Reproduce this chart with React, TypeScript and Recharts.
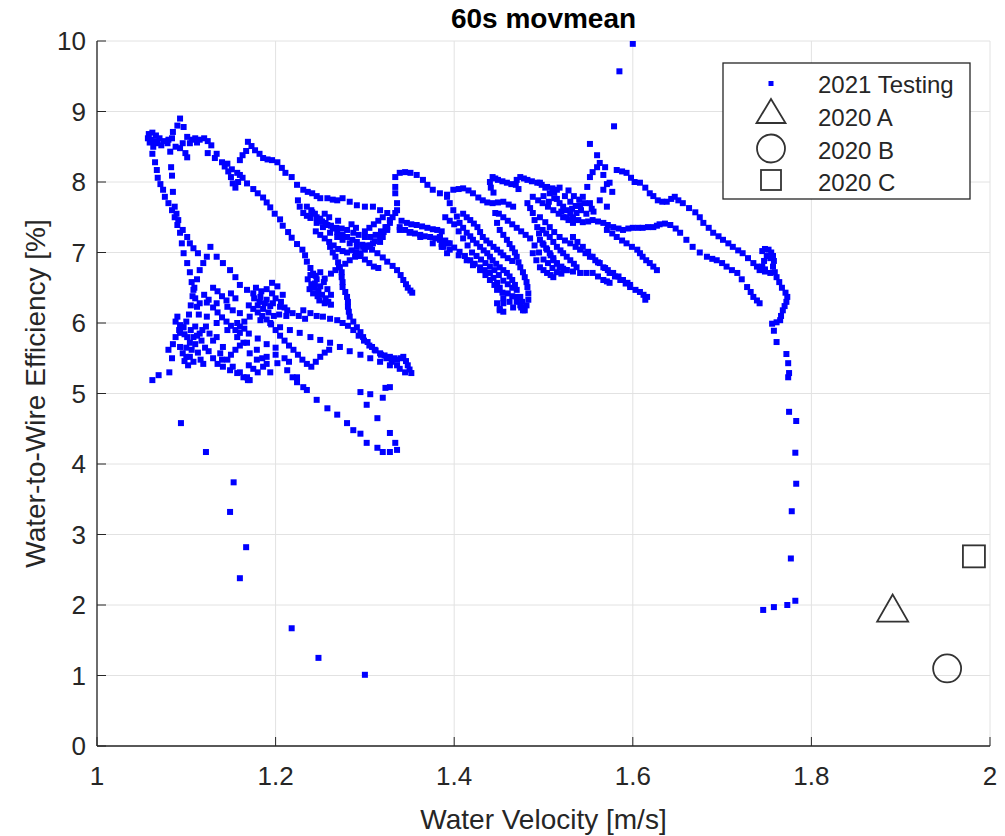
import { ScatterChart, Scatter, XAxis, YAxis, CartesianGrid } from "recharts"

const AXIS = "#262626"
const GRID = "#e2e2e2"
const BLUE = "#0000ff"
const FONT = "'Liberation Sans', Arial, Helvetica, sans-serif"

// tick values
const xTicks = [1, 1.2, 1.4, 1.6, 1.8, 2]
const yTicks = [0, 1, 2, 3, 4, 5, 6, 7, 8, 9, 10]

// 2021 testing as [velocity, efficiency] runs
const leftTop = [
  [1.057, 8.62], [1.058, 8.68], [1.062, 8.7], [1.066, 8.66], [1.059, 8.56], [1.063, 8.5], [1.07, 8.62],
  [1.075, 8.58], [1.079, 8.55], [1.084, 8.62], [1.085, 8.71], [1.09, 8.8], [1.093, 8.9], [1.097, 8.78],
  [1.101, 8.64], [1.106, 8.6], [1.11, 8.62], [1.115, 8.6], [1.12, 8.62], [1.124, 8.58], [1.128, 8.52],
  [1.082, 8.43], [1.093, 8.48], [1.099, 8.41], [1.101, 8.35], [1.088, 8.5], [1.096, 8.55],
  [1.06, 8.6], [1.064, 8.58], [1.068, 8.55], [1.072, 8.52], [1.08, 8.6], [1.104, 8.55], [1.112, 8.56],
]
const leftEdge = [
  [1.062, 8.4], [1.065, 8.28], [1.067, 8.17], [1.068, 8.06], [1.071, 7.97], [1.074, 7.89], [1.076, 7.79],
  [1.08, 7.7], [1.084, 7.6], [1.087, 7.5], [1.09, 7.39], [1.093, 7.28], [1.095, 7.13], [1.097, 6.99],
  [1.101, 6.85], [1.104, 6.72], [1.106, 6.58], [1.108, 6.47], [1.11, 6.35], [1.112, 6.23], [1.114, 6.12],
  [1.083, 8.21], [1.084, 8.09], [1.085, 7.86], [1.087, 7.65], [1.089, 7.55], [1.091, 7.46], [1.096, 7.32],
  [1.101, 7.22], [1.104, 7.13], [1.108, 7.06], [1.113, 6.99],
]
const diagTop = [
  [1.124, 8.41], [1.132, 8.34], [1.14, 8.28], [1.143, 8.22], [1.147, 8.15], [1.15, 8.07], [1.152, 7.98],
  [1.155, 7.92], [1.158, 8.0], [1.16, 8.1], [1.16, 8.31], [1.163, 8.38], [1.167, 8.44],
  [1.134, 8.4], [1.146, 8.26], [1.151, 8.18], [1.157, 8.13], [1.163, 8.06], [1.168, 7.98], [1.175, 7.9],
  [1.18, 7.84], [1.186, 7.78], [1.19, 7.71], [1.194, 7.64], [1.199, 7.55], [1.205, 7.47], [1.208, 7.38],
  [1.214, 7.29], [1.218, 7.21], [1.224, 7.12], [1.23, 7.04], [1.233, 6.96], [1.235, 6.87], [1.239, 6.78],
  [1.242, 6.7], [1.246, 6.62],
]
const blobA = [
  [1.236, 6.62], [1.24, 6.55], [1.244, 6.5], [1.248, 6.45], [1.252, 6.4], [1.256, 6.35], [1.259, 6.3],
  [1.262, 6.26], [1.238, 6.48], [1.242, 6.42], [1.247, 6.38], [1.25, 6.52], [1.254, 6.58], [1.245, 6.67],
  [1.25, 6.72], [1.255, 6.63], [1.258, 6.48], [1.262, 6.4], [1.239, 6.68], [1.244, 6.56], [1.249, 6.32],
  [1.255, 6.28],
]
const upperRun = [
  [1.169, 8.57], [1.173, 8.51], [1.177, 8.45], [1.182, 8.4], [1.186, 8.34], [1.191, 8.32], [1.196, 8.31],
  [1.202, 8.28], [1.207, 8.2], [1.211, 8.13], [1.218, 8.07], [1.224, 7.96], [1.231, 7.89], [1.236, 7.86],
  [1.241, 7.84], [1.246, 7.8], [1.25, 7.77], [1.258, 7.77], [1.264, 7.75], [1.269, 7.74], [1.275, 7.77],
  [1.283, 7.72], [1.291, 7.67], [1.3, 7.65], [1.309, 7.65], [1.317, 7.6], [1.325, 7.56], [1.331, 7.5],
]
const crossLoop = [
  [1.328, 7.46], [1.334, 7.56], [1.336, 7.7], [1.334, 7.84], [1.334, 7.93], [1.334, 8.07], [1.339, 8.13],
  [1.345, 8.14], [1.351, 8.13], [1.358, 8.1], [1.365, 8.03], [1.37, 7.96], [1.376, 7.89], [1.384, 7.84],
  [1.392, 7.82], [1.399, 7.89], [1.405, 7.9], [1.41, 7.91], [1.416, 7.88], [1.421, 7.84], [1.427, 7.78],
  [1.432, 7.74], [1.437, 7.71], [1.443, 7.7], [1.449, 7.71], [1.455, 7.72], [1.461, 7.68], [1.466, 7.65],
]
const innerBand = [
  [1.225, 7.74], [1.227, 7.65], [1.231, 7.56], [1.235, 7.52], [1.239, 7.49], [1.246, 7.42], [1.253, 7.36],
  [1.261, 7.28], [1.269, 7.22], [1.275, 7.18], [1.283, 7.13], [1.291, 7.08], [1.298, 7.08], [1.303, 7.1],
  [1.309, 7.13], [1.317, 7.15], [1.32, 7.22], [1.325, 7.32], [1.328, 7.42], [1.336, 7.6],
  [1.24, 7.6], [1.244, 7.55], [1.25, 7.48], [1.256, 7.42], [1.262, 7.38], [1.268, 7.35], [1.274, 7.34],
  [1.28, 7.32], [1.287, 7.28], [1.293, 7.25], [1.3, 7.22], [1.306, 7.22], [1.312, 7.25], [1.318, 7.3],
  [1.323, 7.36],
]
const crossDiag = [
  [1.235, 7.65], [1.241, 7.57], [1.246, 7.5], [1.252, 7.44], [1.258, 7.39], [1.264, 7.34], [1.269, 7.29],
  [1.275, 7.25], [1.28, 7.22], [1.286, 7.18], [1.291, 7.15], [1.297, 7.11], [1.302, 7.08], [1.308, 7.04],
  [1.314, 6.99], [1.32, 6.93], [1.325, 6.87], [1.331, 6.81], [1.336, 6.75], [1.34, 6.68], [1.343, 6.61],
  [1.346, 6.55], [1.348, 6.5], [1.351, 6.46], [1.353, 6.43],
  [1.262, 6.7], [1.267, 6.75], [1.272, 6.79], [1.278, 6.84], [1.283, 6.89], [1.289, 6.94], [1.295, 6.99],
  [1.3, 7.04], [1.306, 7.1], [1.311, 7.16], [1.317, 7.22], [1.321, 7.29], [1.325, 7.36],
]
const lowerDiag = [
  [1.261, 7.08], [1.264, 7.0], [1.267, 6.94], [1.27, 6.86], [1.271, 6.79], [1.274, 6.72], [1.274, 6.65],
  [1.275, 6.58], [1.275, 6.51], [1.278, 6.44], [1.28, 6.37], [1.281, 6.3], [1.281, 6.23], [1.282, 6.16],
  [1.283, 6.09], [1.287, 6.02], [1.291, 5.94], [1.295, 5.87], [1.298, 5.8], [1.303, 5.73], [1.308, 5.66],
  [1.312, 5.61], [1.317, 5.57], [1.322, 5.54], [1.328, 5.52], [1.333, 5.5], [1.336, 5.48], [1.34, 5.5],
  [1.343, 5.52], [1.346, 5.46], [1.348, 5.4], [1.35, 5.34], [1.352, 5.29],
  [1.231, 6.18], [1.239, 6.14], [1.246, 6.1], [1.253, 6.09], [1.261, 6.06], [1.269, 6.04], [1.275, 6.0],
  [1.281, 5.96], [1.287, 5.9], [1.293, 5.82], [1.299, 5.75], [1.305, 5.68], [1.311, 5.62], [1.318, 5.55],
  [1.324, 5.5], [1.33, 5.45], [1.336, 5.4],
]
const midCluster = [
  [1.339, 7.36], [1.345, 7.32], [1.351, 7.29], [1.356, 7.27], [1.362, 7.25], [1.367, 7.23], [1.373, 7.22],
  [1.379, 7.2], [1.384, 7.18], [1.389, 7.15], [1.393, 7.13],
  [1.341, 7.45], [1.347, 7.42], [1.352, 7.4], [1.358, 7.39], [1.364, 7.37], [1.37, 7.35], [1.376, 7.33],
  [1.381, 7.32], [1.386, 7.3], [1.384, 7.22], [1.388, 7.08], [1.392, 6.99], [1.386, 7.12],
  [1.339, 7.32], [1.35, 7.28], [1.362, 7.22], [1.376, 7.13], [1.386, 7.08], [1.395, 7.04], [1.405, 6.96],
  [1.414, 6.89], [1.421, 6.82], [1.429, 6.75], [1.435, 6.68], [1.44, 6.61], [1.445, 6.54], [1.448, 6.47],
]
const centerRuns = [
  [1.392, 7.79], [1.395, 7.7], [1.399, 7.6], [1.403, 7.51], [1.406, 7.42], [1.41, 7.35], [1.414, 7.28],
  [1.418, 7.23], [1.421, 7.18], [1.425, 7.13], [1.429, 7.08], [1.433, 7.03], [1.437, 6.99], [1.44, 6.94],
  [1.443, 6.89], [1.447, 6.84], [1.451, 6.79], [1.455, 6.75], [1.459, 6.71], [1.462, 6.66], [1.465, 6.61],
  [1.468, 6.54], [1.47, 6.47], [1.474, 6.37], [1.476, 6.3],
  [1.384, 7.22], [1.39, 7.17], [1.395, 7.13], [1.4, 7.07], [1.406, 7.01], [1.412, 6.95], [1.418, 6.89],
  [1.423, 6.84], [1.429, 6.79], [1.434, 6.75], [1.44, 6.71], [1.444, 6.64], [1.448, 6.57], [1.451, 6.5],
  [1.454, 6.43], [1.455, 6.35], [1.455, 6.28], [1.451, 6.18],
  [1.41, 7.55], [1.414, 7.5], [1.418, 7.46], [1.422, 7.41], [1.426, 7.36], [1.429, 7.29], [1.432, 7.22],
  [1.436, 7.17], [1.44, 7.13], [1.444, 7.08], [1.448, 7.04], [1.452, 7.0], [1.455, 6.96], [1.46, 6.92],
  [1.465, 6.88],
  [1.446, 7.56], [1.448, 7.42], [1.451, 7.32], [1.455, 7.25], [1.459, 7.18], [1.462, 7.12], [1.465, 7.06],
  [1.468, 7.0], [1.47, 6.94], [1.472, 6.86], [1.474, 6.79], [1.477, 6.72], [1.479, 6.65], [1.481, 6.58],
  [1.482, 6.51], [1.483, 6.42], [1.483, 6.33], [1.481, 6.25], [1.479, 6.18],
  [1.448, 6.28], [1.451, 6.2], [1.455, 6.16], [1.47, 6.37], [1.474, 6.25], [1.477, 6.18], [1.462, 6.3],
  [1.466, 6.22],
]
const centerTop = [
  [1.44, 8.0], [1.443, 8.07], [1.446, 8.05], [1.449, 8.03], [1.454, 8.01], [1.459, 7.99], [1.464, 7.97],
  [1.47, 8.03], [1.474, 8.07], [1.478, 8.05], [1.482, 8.03], [1.487, 8.01], [1.493, 7.99], [1.498, 7.96],
  [1.504, 7.93], [1.51, 7.91], [1.515, 7.89], [1.441, 7.92], [1.444, 7.85], [1.469, 7.96], [1.472, 7.9],
  [1.482, 7.7], [1.485, 7.63], [1.488, 7.56], [1.49, 7.46], [1.493, 7.36], [1.495, 7.27], [1.496, 7.18],
  [1.5, 7.11], [1.504, 7.04], [1.508, 6.96], [1.511, 6.89], [1.515, 6.84], [1.518, 6.79], [1.522, 6.77],
  [1.526, 6.75],
  [1.499, 7.32], [1.503, 7.27], [1.507, 7.22], [1.511, 7.15], [1.515, 7.08], [1.519, 7.03], [1.522, 6.99],
  [1.526, 6.94], [1.53, 6.89], [1.534, 6.84], [1.537, 6.79],
  [1.488, 7.79], [1.494, 7.74], [1.499, 7.7], [1.505, 7.65], [1.511, 7.6], [1.517, 7.55], [1.522, 7.5],
  [1.528, 7.46], [1.533, 7.42],
  [1.488, 6.99], [1.492, 6.89], [1.496, 6.79], [1.5, 6.75], [1.504, 6.71], [1.508, 6.68], [1.511, 6.65],
]
const denseKnot = [
  [1.5, 7.8], [1.506, 7.72], [1.512, 7.85], [1.518, 7.92], [1.524, 7.8], [1.53, 7.72], [1.536, 7.66],
  [1.542, 7.6], [1.548, 7.55], [1.554, 7.62], [1.528, 7.88], [1.534, 7.8], [1.54, 7.75], [1.546, 7.7],
  [1.552, 7.7], [1.556, 7.58], [1.52, 7.58], [1.526, 7.5], [1.532, 7.62], [1.515, 7.76],
]
const rightRuns = [
  [1.496, 7.99], [1.502, 7.92], [1.507, 7.84], [1.512, 7.77], [1.518, 7.7], [1.522, 7.65], [1.526, 7.6],
  [1.53, 7.55], [1.533, 7.5], [1.539, 7.46], [1.544, 7.43], [1.55, 7.44], [1.555, 7.46], [1.561, 7.44],
  [1.567, 7.42], [1.572, 7.39], [1.578, 7.36], [1.584, 7.34], [1.589, 7.32], [1.595, 7.34], [1.6, 7.35],
  [1.606, 7.35], [1.611, 7.35], [1.617, 7.36], [1.623, 7.36], [1.627, 7.38], [1.63, 7.4], [1.636, 7.41],
  [1.642, 7.39], [1.648, 7.34], [1.653, 7.28], [1.66, 7.18], [1.667, 7.08], [1.675, 7.0], [1.683, 6.94],
  [1.689, 6.91], [1.694, 6.89], [1.7, 6.85], [1.705, 6.8], [1.711, 6.75], [1.717, 6.71], [1.722, 6.62],
  [1.728, 6.51], [1.732, 6.44], [1.735, 6.37], [1.739, 6.32], [1.742, 6.28],
  [1.496, 7.5], [1.502, 7.43], [1.507, 7.36], [1.512, 7.29], [1.518, 7.22], [1.524, 7.17], [1.53, 7.13],
  [1.536, 7.08], [1.541, 7.04], [1.547, 6.99], [1.552, 6.94], [1.558, 6.89], [1.563, 6.85], [1.569, 6.78],
  [1.574, 6.71], [1.58, 6.66], [1.586, 6.61], [1.592, 6.56], [1.597, 6.51], [1.603, 6.47], [1.608, 6.44],
  [1.612, 6.4], [1.616, 6.37], [1.614, 6.33],
  [1.533, 7.22], [1.538, 7.15], [1.544, 7.08], [1.55, 7.01], [1.555, 6.94], [1.561, 6.86], [1.567, 6.79],
  [1.572, 6.75], [1.578, 6.71], [1.584, 6.66], [1.589, 6.61], [1.594, 6.57], [1.597, 6.54],
  [1.499, 7.13], [1.503, 7.06], [1.507, 6.99], [1.511, 6.92], [1.515, 6.85], [1.52, 6.8], [1.526, 6.75],
  [1.533, 6.73], [1.541, 6.71], [1.548, 6.71], [1.555, 6.71], [1.561, 6.66], [1.567, 6.61], [1.571, 6.59],
  [1.574, 6.57],
  [1.571, 7.32], [1.577, 7.27], [1.582, 7.22], [1.588, 7.17], [1.593, 7.13], [1.599, 7.08], [1.605, 7.04],
  [1.608, 6.99], [1.611, 6.94], [1.615, 6.89], [1.619, 6.85], [1.623, 6.8], [1.627, 6.75],
]
const spike = [
  [1.533, 7.46], [1.537, 7.56], [1.541, 7.67], [1.544, 7.79], [1.549, 7.93], [1.552, 8.07], [1.555, 8.14],
  [1.56, 8.21], [1.563, 8.27], [1.56, 8.38], [1.552, 8.54], [1.579, 8.79], [1.585, 9.57], [1.6, 9.96],
  [1.563, 7.74], [1.567, 7.89], [1.571, 7.97], [1.567, 8.1], [1.569, 8.21], [1.574, 7.99], [1.577, 7.86],
  [1.571, 7.65], [1.582, 8.17], [1.588, 8.15], [1.593, 8.13], [1.598, 8.06], [1.602, 8.0], [1.608, 7.99],
  [1.614, 7.92], [1.619, 7.84], [1.623, 7.8], [1.628, 7.74], [1.633, 7.72], [1.638, 7.72], [1.643, 7.76],
  [1.647, 7.79], [1.651, 7.74], [1.656, 7.7], [1.663, 7.63], [1.67, 7.57], [1.675, 7.5], [1.679, 7.42],
  [1.685, 7.35], [1.69, 7.28], [1.696, 7.23], [1.701, 7.18], [1.707, 7.13], [1.712, 7.08], [1.718, 7.03],
  [1.723, 6.99], [1.729, 6.92], [1.735, 6.85], [1.739, 6.8], [1.742, 6.75], [1.748, 6.73], [1.754, 6.71],
]
const farRight = [
  [1.745, 7.02], [1.748, 7.05], [1.752, 7.04], [1.755, 7.0], [1.757, 6.95], [1.758, 6.88], [1.757, 6.8],
  [1.754, 6.92], [1.75, 6.95], [1.747, 6.88], [1.745, 6.8], [1.748, 6.76], [1.759, 6.72], [1.761, 6.65],
  [1.764, 6.58], [1.767, 6.5], [1.771, 6.43], [1.773, 6.37], [1.772, 6.3], [1.77, 6.24], [1.768, 6.18],
  [1.766, 6.1], [1.765, 6.04], [1.761, 6.01], [1.756, 5.99], [1.758, 5.89], [1.761, 5.73], [1.772, 5.56],
  [1.774, 5.43], [1.775, 5.29], [1.774, 5.23],
]
const rightDrop = [
  [1.775, 4.74], [1.783, 4.61], [1.782, 4.16], [1.783, 3.72], [1.778, 3.33], [1.777, 2.66], [1.782, 2.06],
  [1.773, 2.0], [1.758, 1.97], [1.746, 1.93],
]
const leftCluster = [
  [1.127, 7.08], [1.123, 6.94], [1.119, 6.85], [1.115, 6.75], [1.112, 6.62], [1.109, 6.5], [1.107, 6.38],
  [1.105, 6.25], [1.103, 6.12], [1.1, 6.02], [1.097, 5.94], [1.093, 5.86],
  [1.134, 6.94], [1.141, 6.85], [1.149, 6.75], [1.155, 6.65], [1.16, 6.54], [1.168, 6.47], [1.175, 6.42],
  [1.183, 6.37], [1.19, 6.33], [1.197, 6.28], [1.205, 6.23], [1.213, 6.18], [1.219, 6.14], [1.226, 6.1],
  [1.233, 6.06],
  [1.115, 6.28], [1.123, 6.29], [1.134, 6.28], [1.146, 6.23], [1.152, 6.18], [1.16, 6.14], [1.171, 6.09],
  [1.183, 6.04], [1.194, 6.0], [1.205, 5.94], [1.216, 5.9], [1.227, 5.86], [1.239, 5.8], [1.25, 5.76],
  [1.261, 5.72], [1.272, 5.66], [1.283, 5.6], [1.295, 5.55], [1.306, 5.5], [1.317, 5.45], [1.328, 5.4],
  [1.339, 5.35], [1.345, 5.3],
  [1.123, 6.09], [1.134, 6.0], [1.146, 5.9], [1.157, 5.8], [1.168, 5.72], [1.179, 5.62], [1.19, 5.52],
  [1.202, 5.43], [1.213, 5.33], [1.224, 5.23], [1.231, 5.09],
  [1.134, 5.8], [1.141, 5.66], [1.146, 5.48], [1.152, 5.38], [1.16, 5.3], [1.168, 5.23], [1.171, 5.19],
  [1.157, 6.0], [1.16, 5.86], [1.164, 5.72], [1.171, 5.57], [1.179, 5.48], [1.186, 5.38], [1.194, 5.3],
  [1.138, 5.57], [1.141, 5.38], [1.149, 5.33], [1.157, 5.29], [1.164, 5.23], [1.169, 5.19],
]
const knot = [
  [1.178, 6.5], [1.184, 6.45], [1.19, 6.48], [1.196, 6.42], [1.2, 6.35], [1.206, 6.3], [1.21, 6.22],
  [1.18, 6.25], [1.186, 6.2], [1.192, 6.15], [1.198, 6.1], [1.204, 6.12], [1.176, 6.35], [1.182, 6.3],
  [1.188, 6.28], [1.194, 6.24], [1.208, 6.4], [1.202, 6.52], [1.196, 6.57], [1.212, 6.1],
  [1.09, 6.09], [1.093, 5.97], [1.096, 5.94], [1.098, 5.84], [1.101, 5.8], [1.093, 5.66], [1.096, 5.57],
  [1.1, 5.52], [1.104, 5.52], [1.106, 5.62], [1.11, 5.7], [1.113, 5.58], [1.116, 5.48], [1.119, 5.42],
  [1.108, 5.45], [1.102, 5.4], [1.098, 5.46], [1.112, 5.82], [1.117, 5.75], [1.121, 5.65], [1.088, 6.02],
  [1.092, 5.9], [1.105, 5.9], [1.11, 5.95], [1.115, 5.85],
]
// extra points where the strands pile up
const leftFill = [
  [1.12, 6.4], [1.125, 6.33], [1.13, 6.22], [1.135, 6.15], [1.14, 6.08], [1.145, 6.02], [1.15, 5.96],
  [1.155, 5.9], [1.16, 5.95], [1.165, 6.02], [1.17, 6.25], [1.175, 6.2], [1.18, 6.15], [1.185, 6.1],
  [1.19, 6.05], [1.195, 5.98], [1.2, 5.9], [1.205, 5.82], [1.21, 5.75], [1.215, 5.68], [1.22, 5.62],
  [1.225, 5.55], [1.23, 5.48], [1.235, 5.42], [1.24, 5.38], [1.245, 5.45], [1.25, 5.52], [1.255, 5.58],
  [1.26, 5.62], [1.13, 6.5], [1.135, 6.45], [1.14, 6.38], [1.145, 6.32], [1.15, 6.42], [1.155, 6.35],
  [1.1, 5.65], [1.104, 5.72], [1.108, 5.8], [1.118, 5.9], [1.122, 5.95], [1.126, 5.85], [1.13, 5.75],
  [1.125, 5.6], [1.13, 5.5], [1.135, 5.42], [1.14, 5.48], [1.15, 5.55], [1.155, 5.62], [1.16, 5.68],
  [1.17, 5.4], [1.175, 5.35], [1.18, 5.3], [1.185, 5.5], [1.19, 5.42], [1.2, 5.55], [1.21, 5.5],
  [1.215, 5.45], [1.2, 5.65], [1.19, 5.7], [1.18, 5.78], [1.17, 5.85], [1.165, 5.92], [1.08, 5.62],
  [1.085, 5.7], [1.088, 5.8],
]
const midFill = [
  [1.245, 7.3], [1.25, 7.25], [1.255, 7.2], [1.26, 7.15], [1.265, 7.1], [1.27, 7.05], [1.275, 7.02],
  [1.28, 7.0], [1.285, 7.03], [1.29, 7.0], [1.295, 6.95], [1.3, 6.9], [1.305, 6.85], [1.31, 6.8],
  [1.315, 6.78], [1.3, 7.3], [1.305, 7.35], [1.31, 7.4], [1.315, 7.45], [1.32, 7.5], [1.29, 7.35],
  [1.285, 7.4], [1.27, 7.45], [1.26, 7.5], [1.255, 7.55],
  [1.39, 7.5], [1.395, 7.45], [1.4, 7.4], [1.405, 7.3], [1.41, 7.2], [1.415, 7.1], [1.42, 7.0],
  [1.425, 6.95], [1.43, 6.9], [1.435, 6.85], [1.44, 6.8], [1.445, 6.75], [1.45, 6.68], [1.455, 6.6],
  [1.46, 6.55], [1.465, 6.5], [1.46, 6.42], [1.465, 6.38], [1.47, 6.3], [1.475, 6.22], [1.45, 7.55],
  [1.455, 7.5], [1.46, 7.45], [1.465, 7.4], [1.47, 7.35], [1.475, 7.3], [1.48, 7.25], [1.485, 7.2],
  [1.49, 7.1], [1.495, 7.0], [1.5, 6.9], [1.505, 6.85], [1.51, 6.78], [1.515, 6.72], [1.52, 6.7],
]
const lowerLoop = [
  [1.219, 5.23], [1.224, 5.16], [1.235, 5.05], [1.246, 4.91], [1.258, 4.79], [1.269, 4.7], [1.28, 4.58],
  [1.287, 4.48], [1.295, 4.43], [1.302, 4.3], [1.314, 4.23], [1.32, 4.17], [1.328, 4.17], [1.336, 4.2],
  [1.334, 4.3], [1.328, 4.44], [1.314, 4.65], [1.32, 4.94], [1.323, 5.08], [1.328, 5.09], [1.306, 4.99],
  [1.295, 5.02], [1.302, 4.84],
]
const leftTail = [
  [1.062, 5.19], [1.069, 5.26], [1.081, 5.3], [1.084, 5.5], [1.094, 4.58], [1.122, 4.17], [1.153, 3.74],
  [1.149, 3.32], [1.167, 2.82], [1.16, 2.38], [1.218, 1.67], [1.248, 1.25], [1.3, 1.01],
]

// 2020 single points
const point2020A = [[1.891, 1.95]]
const point2020B = [[1.952, 1.1]]
const point2020C = [[1.982, 2.69]]

const toXY = (rows: number[][]) => rows.map(([x, y]) => ({ x, y }))

const testing = toXY([
  ...leftTop, ...leftEdge, ...diagTop, ...blobA, ...upperRun, ...crossLoop, ...innerBand, ...crossDiag,
  ...lowerDiag, ...midCluster, ...centerRuns, ...centerTop, ...denseKnot, ...rightRuns, ...spike,
  ...farRight, ...rightDrop, ...leftCluster, ...knot, ...leftFill, ...midFill, ...lowerLoop, ...leftTail,
])

const fmtX = (v: number) => (Number.isInteger(v) ? String(v) : v.toFixed(1))

const Dot = (p: any) => <rect x={p.cx - 3} y={p.cy - 3} width={6} height={6} fill={BLUE} />
const Tri = (p: any) => (
  <polygon
    points={`${p.cx},${p.cy - 14} ${p.cx - 15.5},${p.cy + 13} ${p.cx + 15.5},${p.cy + 13}`}
    fill="none"
    stroke="#333"
    strokeWidth={1.8}
  />
)
const Circ = (p: any) => <circle cx={p.cx} cy={p.cy} r={14} fill="none" stroke="#333" strokeWidth={1.8} />
const Sq = (p: any) => (
  <rect x={p.cx - 11} y={p.cy - 11} width={22} height={22} fill="none" stroke="#333" strokeWidth={1.8} />
)

const BottomTick = ({ x, y, payload }: any) => (
  <g>
    <line x1={x} y1={y} x2={x} y2={y - 9} stroke={AXIS} />
    <text x={x} y={y + 39} textAnchor="middle" fontSize={26} fontFamily={FONT} fill={AXIS}>
      {fmtX(payload.value)}
    </text>
  </g>
)
const LeftTick = ({ x, y, payload }: any) => (
  <g>
    <line x1={x} y1={y} x2={x + 9} y2={y} stroke={AXIS} />
    <text x={x - 11} y={y + 9} textAnchor="end" fontSize={26} fontFamily={FONT} fill={AXIS}>
      {payload.value}
    </text>
  </g>
)
const TopTick = ({ x, y }: any) => <line x1={x} y1={y} x2={x} y2={y + 9} stroke={AXIS} />
const RightTick = ({ x, y }: any) => <line x1={x} y1={y} x2={x - 9} y2={y} stroke={AXIS} />

export default function App() {
  return (
    <div style={{ position: "absolute", left: 0, top: 0, width: 1005, height: 836, background: "#fff" }}>
      <ScatterChart width={1005} height={836} margin={{ top: 41, right: 15, bottom: 0, left: 0 }}>
        <CartesianGrid stroke={GRID} strokeWidth={1} />
        <XAxis
          dataKey="x"
          type="number"
          domain={[1, 2]}
          ticks={xTicks}
          interval={0}
          height={90}
          tickSize={0}
          tickMargin={0}
          tick={<BottomTick />}
          tickLine={false}
          axisLine={{ stroke: AXIS, strokeWidth: 1.3 }}
          allowDataOverflow
        />
        <XAxis
          xAxisId="top"
          orientation="top"
          dataKey="x"
          type="number"
          domain={[1, 2]}
          ticks={xTicks}
          interval={0}
          height={0}
          tickSize={0}
          tickMargin={0}
          tick={<TopTick />}
          tickLine={false}
          axisLine={{ stroke: AXIS, strokeWidth: 1.3 }}
          allowDataOverflow
        />
        <YAxis
          dataKey="y"
          type="number"
          domain={[0, 10]}
          ticks={yTicks}
          interval={0}
          width={97}
          tickSize={0}
          tickMargin={0}
          tick={<LeftTick />}
          tickLine={false}
          axisLine={{ stroke: AXIS, strokeWidth: 1.3 }}
          allowDataOverflow
        />
        <YAxis
          yAxisId="right"
          orientation="right"
          dataKey="y"
          type="number"
          domain={[0, 10]}
          ticks={yTicks}
          interval={0}
          width={0}
          tickSize={0}
          tickMargin={0}
          tick={<RightTick />}
          tickLine={false}
          axisLine={{ stroke: AXIS, strokeWidth: 1.3 }}
          allowDataOverflow
        />
        <Scatter name="2021 Testing" data={testing} shape={Dot} isAnimationActive={false} />
        <Scatter name="2020 A" data={toXY(point2020A)} shape={Tri} isAnimationActive={false} />
        <Scatter name="2020 B" data={toXY(point2020B)} shape={Circ} isAnimationActive={false} />
        <Scatter
          name="2020 C"
          data={toXY(point2020C)}
          shape={Sq}
          xAxisId="top"
          yAxisId="right"
          isAnimationActive={false}
        />
      </ScatterChart>
      <svg
        width={1005}
        height={836}
        style={{ position: "absolute", left: 0, top: 0, pointerEvents: "none" }}
        fontFamily={FONT}
      >
        <text x={543.5} y={28} textAnchor="middle" fontSize={28} fontWeight="bold" fill="#000">
          60s movmean
        </text>
        <text x={543.5} y={829} textAnchor="middle" fontSize={28} fill={AXIS}>
          Water Velocity [m/s]
        </text>
        <text transform="translate(45,393.5) rotate(-90)" textAnchor="middle" fontSize={28} fill={AXIS}>
          Water-to-Wire Efficiency [%]
        </text>
        <rect x={723} y={63} width={247} height={136} fill="#fff" stroke={AXIS} strokeWidth={1.3} />
        <rect x={768.5} y={81} width={5} height={5} fill={BLUE} />
        <polygon points="771,99 756.5,123 785.5,123" fill="none" stroke="#333" strokeWidth={1.8} />
        <circle cx={771} cy={148.5} r={14} fill="none" stroke="#333" strokeWidth={1.8} />
        <rect x={761} y={170} width={20} height={20} fill="none" stroke="#333" strokeWidth={1.8} />
        <g fontSize={24} fill={AXIS}>
          <text x={818} y={93}>2021 Testing</text>
          <text x={818} y={126}>2020 A</text>
          <text x={818} y={159}>2020 B</text>
          <text x={818} y={191}>2020 C</text>
        </g>
      </svg>
    </div>
  )
}
